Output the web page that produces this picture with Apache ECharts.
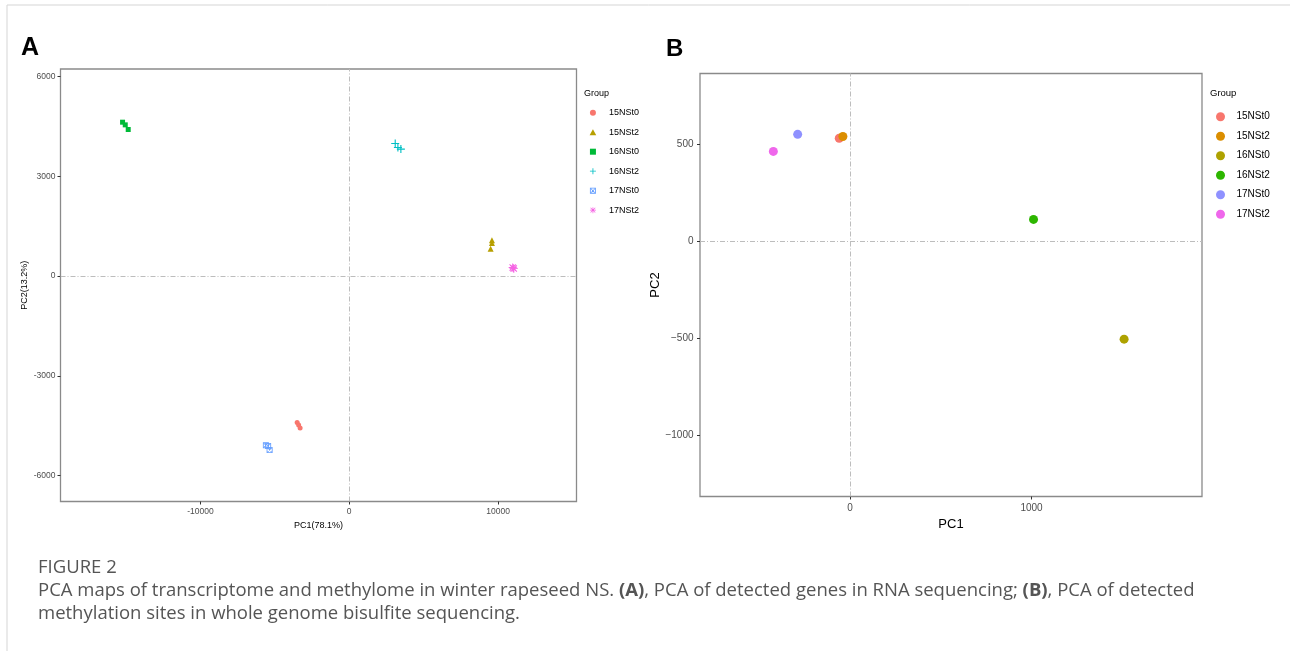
<!DOCTYPE html>
<html>
<head>
<meta charset="utf-8">
<title>PCA maps</title>
<script src="https://cdn.jsdelivr.net/npm/echarts@6/dist/echarts.min.js"></script>
<style>
  html, body { margin: 0; padding: 0; background: #fff; }
  #main { width: 1290px; height: 651px; }
</style>
</head>
<body>
<div id="main"></div>
<script>
// group names (both panels)
var groupNames = ['15NSt0', '15NSt2', '16NSt0', '16NSt2', '17NSt0', '17NSt2'];

// panel A: RNA-seq PCA, three replicates per group [PC1, PC2]
var a15NSt0 = [[-3500, -4400], [-3400, -4480], [-3300, -4570]];
var a15NSt2 = [[9590, 1075], [9590, 995], [9500, 825]];
var a16NSt0 = [[-15230, 4630], [-15050, 4550], [-14850, 4410]];
var a16NSt2 = [[3090, 3990], [3270, 3870], [3470, 3820]];
var a17NSt0 = [[-5600, -5090], [-5450, -5110], [-5350, -5230]];
var a17NSt2 = [[10980, 260], [11030, 240], [11060, 225]];

// panel B: WGBS PCA, one point per group
var bPC1 = [-59, -39, 1510, 1011, -288, -422];
var bPC2 = [531, 540, -506, 112, 551, 463];

// tick labels
var aXTicks = [-10000, 0, 10000];
var aYTicks = [-6000, -3000, 0, 3000, 6000];
var bXTicks = [0, 1000];
var bYTicks = [-1000, -500, 0, 500];

var aColors = ['#F8766D', '#B79F00', '#00BA38', '#00BFC4', '#619CFF', '#F564E3'];
var bColors = ['#F8766D', '#DB8E00', '#AEA200', '#2DB600', '#8F91FF', '#EF67EB'];

// ggplot-like point shapes as paths (so the legend keeps their aspect)
var triPath = 'path://M5,0L10,9L0,9Z';
var sqPath = 'path://M0,0H10V10H0Z';
var plusPath = 'path://M4.3,0H5.7V4.3H10V5.7H5.7V10H4.3V5.7H0V4.3H4.3Z';
var starPath = 'path://M4.4,0H5.6V4.4H10V5.6H5.6V10H4.4V5.6H0V4.4H4.4Z' +
    'M1.5,0.7L9.3,8.5L8.5,9.3L0.7,1.5Z M8.5,0.7L9.3,1.5L1.5,9.3L0.7,8.5Z';
var boxXPath = 'path://M0,0H10V10H0Z M1.4,1.4V8.6H8.6V1.4Z' +
    'M2.2,1.4L8.6,7.8L7.8,8.6L1.4,2.2Z M7.8,1.4L8.6,2.2L2.2,8.6L1.4,7.8Z';

var aData = [a15NSt0, a15NSt2, a16NSt0, a16NSt2, a17NSt0, a17NSt2];
var aSymbols = ['circle', triPath, sqPath, plusPath, boxXPath, starPath];
var aSizes = [5, 6, 5, 8, 6, 8];

var FONT = '"Liberation Sans", Arial, Helvetica, sans-serif';
var CAP = '"Open Sans", "Noto Sans", sans-serif';

function zeroLines() {
    return {
        silent: true,
        symbol: 'none',
        label: { show: false },
        lineStyle: { color: '#bdbdbd', width: 1, type: [5, 2, 1, 2] },
        data: [{ xAxis: 0 }, { yAxis: 0 }]
    };
}

function axisBase(gridIndex, ticks, fontSize, nameSize, name, gap, lblMargin, minus) {
    return {
        type: 'value',
        gridIndex: gridIndex,
        name: name,
        nameLocation: 'middle',
        nameGap: gap,
        nameTextStyle: { fontFamily: FONT, fontSize: nameSize, color: '#000' },
        axisLine: { show: false, onZero: false },
        axisTick: { show: true, length: 3, customValues: ticks, lineStyle: { color: '#333', width: 1 } },
        axisLabel: {
            customValues: ticks,
            margin: lblMargin,
            fontFamily: FONT,
            fontSize: fontSize,
            color: '#4d4d4d',
            formatter: function (v) {
                if (minus && v < 0) return '\u2212' + Math.abs(v);
                return String(v);
            }
        },
        splitLine: { show: false }
    };
}

var series = [];
for (var i = 0; i < groupNames.length; i++) {
    series.push({
        name: 'A:' + groupNames[i],
        type: 'scatter',
        xAxisIndex: 0,
        yAxisIndex: 0,
        symbol: aSymbols[i],
        symbolSize: aSizes[i],
        itemStyle: { color: aColors[i], opacity: 1 },
        data: aData[i],
        markLine: i === 0 ? zeroLines() : undefined
    });
}
for (var j = 0; j < groupNames.length; j++) {
    series.push({
        name: 'B:' + groupNames[j],
        type: 'scatter',
        xAxisIndex: 1,
        yAxisIndex: 1,
        symbol: 'circle',
        symbolSize: 9,
        itemStyle: { color: bColors[j], opacity: 1 },
        data: [[bPC1[j], bPC2[j]]],
        markLine: j === 0 ? zeroLines() : undefined
    });
}

function legendFor(prefix, left, top, iconSize, fontSize) {
    return {
        orient: 'vertical',
        left: left,
        top: top,
        padding: 0,
        itemWidth: 22,
        itemHeight: iconSize,
        itemGap: 7.5,
        symbolKeepAspect: true,
        selectedMode: false,
        textStyle: { fontFamily: FONT, fontSize: fontSize, lineHeight: 12, color: '#000' },
        formatter: function (n) { return n.split(':')[1]; },
        data: groupNames.map(function (g) { return prefix + g; })
    };
}

var myChart = echarts.init(document.getElementById('main'));

var option = {
    backgroundColor: '#fff',
    animation: false,
    grid: [
        { left: 60.5, top: 69, width: 516, height: 432.5, show: true, borderColor: '#8a8a8a', borderWidth: 1.3, backgroundColor: 'transparent' },
        { left: 700, top: 73.5, width: 502, height: 423, show: true, borderColor: '#8a8a8a', borderWidth: 1.3, backgroundColor: 'transparent' }
    ],
    xAxis: [
        Object.assign(axisBase(0, aXTicks, 8.5, 9, 'PC1(78.1%)', 17, 6, false), { min: -19400, max: 15270 }),
        Object.assign(axisBase(1, bXTicks, 10, 13, 'PC1', 18.5, 6.5, true), { min: -826, max: 1939 })
    ],
    yAxis: [
        Object.assign(axisBase(0, aYTicks, 8.5, 9, 'PC2(13.2%)', 31, 5, false), { min: -6780, max: 6230 }),
        Object.assign(axisBase(1, bYTicks, 10, 13, 'PC2', 30.5, 6.5, true), { min: -1318, max: 865 })
    ],
    legend: [
        legendFor('A:', 589.6, 106.7, 6, 9),
        legendFor('B:', 1216, 110.7, 9, 10)
    ],
    graphic: [
        // figure frame
        { type: 'line', silent: true, shape: { x1: 7, y1: 5, x2: 1290, y2: 5 }, style: { stroke: '#d5d5d5', lineWidth: 1 } },
        { type: 'line', silent: true, shape: { x1: 7, y1: 5, x2: 7, y2: 651 }, style: { stroke: '#d5d5d5', lineWidth: 1 } },
        // panel letters
        { type: 'text', left: 21, top: 36, style: { text: 'A', font: 'bold 25px ' + FONT, fill: '#000' } },
        { type: 'text', left: 666, top: 37, style: { text: 'B', font: 'bold 24px ' + FONT, fill: '#000' } },
        // legend titles
        { type: 'text', x: 584, y: 93.3, style: { text: 'Group', font: '9px ' + FONT, fill: '#000', verticalAlign: 'middle' } },
        { type: 'text', x: 1210, y: 93.3, style: { text: 'Group', font: '9.5px ' + FONT, fill: '#000', verticalAlign: 'middle' } },
        // caption
        { type: 'text', x: 38, y: 568, style: { text: 'FIGURE 2', font: '18.5px ' + CAP, fill: '#555', verticalAlign: 'middle' } },
        {
            type: 'text', x: 38, y: 591,
            style: {
                text: '{n|PCA maps of transcriptome and methylome in winter rapeseed NS. }{b|(A)}{n|, PCA of detected genes in RNA sequencing; }{b|(B)}{n|, PCA of detected}',
                verticalAlign: 'middle',
                rich: {
                    n: { font: '18.5px ' + CAP, fill: '#555' },
                    b: { font: 'bold 18.5px ' + CAP, fill: '#555' }
                }
            }
        },
        { type: 'text', x: 38, y: 614, style: { text: 'methylation sites in whole genome bisulfite sequencing.', font: '18.5px ' + CAP, fill: '#555', verticalAlign: 'middle' } }
    ],
    series: series
};

myChart.setOption(option);
</script>
</body>
</html>
